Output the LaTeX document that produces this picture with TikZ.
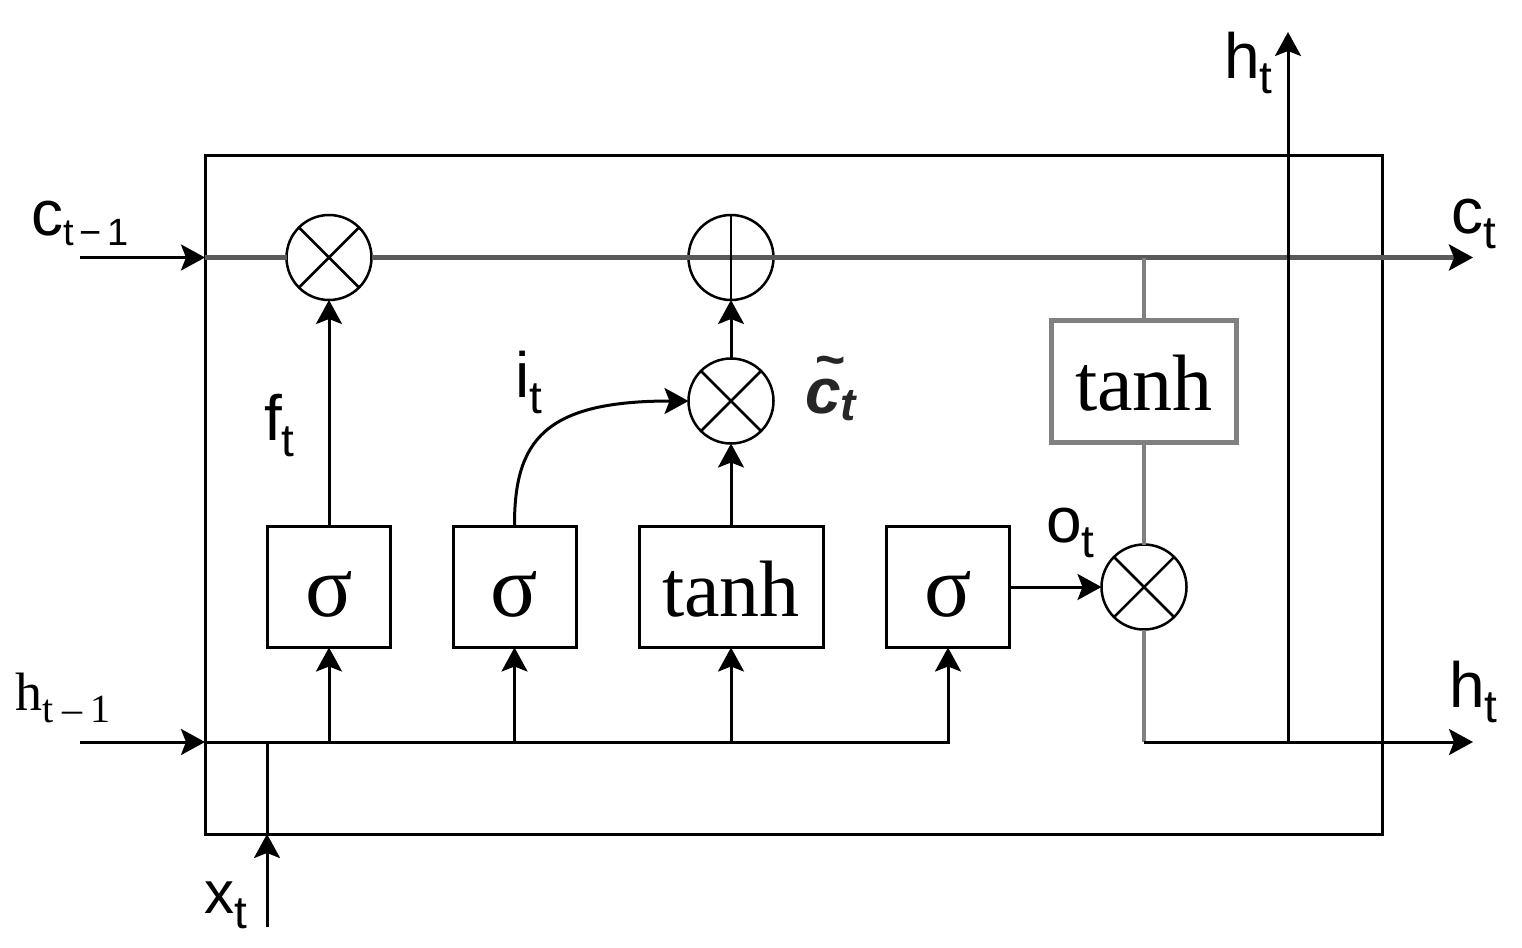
\documentclass[tikz,border=0pt]{standalone}
\usepackage{fontspec}
\setsansfont{Liberation Sans}
\newfontfamily\serf{Liberation Serif}
\usetikzlibrary{arrows.meta}
\definecolor{cline}{HTML}{5A5A5A}
\definecolor{gline}{HTML}{808080}
\newcommand{\LB}[5]{{\fontsize{#1}{#1}\selectfont #3\raisebox{-#5pt}{\fontsize{#2}{#2}\selectfont #4}}}
\newcommand{\sig}{{\serf\fontsize{88}{88}\selectfont σ}}
\newcommand{\tnh}{{\serf\fontsize{80}{80}\selectfont tanh}}
\newcommand{\tildec}{\rlap{\hspace{9pt}\raisebox{36pt}{\fontsize{52}{52}\selectfont\textasciitilde}}c}
\tikzset{
  ln/.style={line width=3pt, black},
  arr/.style={ln, -{Stealth[length=24pt,width=26pt,inset=5pt]}},
  cl/.style={line width=4.5pt, cline},
  gl/.style={line width=4.5pt, gline},
  gate/.style={draw, line width=3pt, minimum height=121pt, text height=58pt, text depth=0pt, inner sep=0pt, outer sep=0pt},
  opc/.style={circle, draw, line width=2.5pt, fill=white, minimum size=85pt, inner sep=0pt, outer sep=0pt},
  lab/.style={anchor=base west, inner sep=0pt, outer sep=0pt},
}
\begin{document}
\begin{tikzpicture}[x=1pt,y=-1pt]
\useasboundingbox (0,0) rectangle (1522,947);
\fill[white] (0,0) rectangle (1522,947);
% cell box
\node[draw, line width=3pt, minimum width=1177pt, minimum height=679pt, inner sep=0pt, outer sep=0pt] (cell) at (793.5,494.5) {};
% gates
\node[gate, minimum width=123pt] (s1) at (329,587) {\sig};
\node[gate, minimum width=123pt] (s2) at (514.5,587) {\sig};
\node[gate, minimum width=184pt] (tc) at (731,587) {\tnh};
\node[gate, minimum width=123pt] (s3) at (948,587) {\sig};
\node[gate, draw=gline, line width=5pt, minimum width=185pt, minimum height=122pt] (th) at (1144,381.5) {\tnh};
% operators
\node[opc] (m1) at (329,257.5) {};
\node[opc] (pl) at (731,257.5) {};
\node[opc] (m2) at (731,401) {};
\node[opc] (m3) at (1144,587) {};
% coordinates
\coordinate (cin) at (80,257.5);
\coordinate (hin) at (80,742);
\coordinate (xin) at (267,927);
\coordinate (cout) at (1473,257.5);
\coordinate (hout) at (1473,742);
\coordinate (htop) at (1288,32);
% cell state line
\draw[arr] (cin) -- (cin -| cell.west);
\draw[cl] (cin -| cell.west) -- (m1.west);
\draw[cl] (m1.east) -- (pl.west);
\draw[cl] (pl.west) -- (pl.east);
\draw[cl, -{Stealth[length=24pt,width=26pt,inset=5pt,color=black]}] (pl.east) -- (cout);
% output path
\draw[gl] (th.north |- cout) -- (th.north);
\draw[gl] (th.south) -- (m3.north);
\draw[gl] (m3.south) -- (m3.south |- hout);
\draw[arr] (m3.south |- hout) -- (hout);
\draw[arr] (htop |- hout) -- (htop);
% hidden input line
\draw[arr] (hin) -- (hin -| cell.west);
\draw[arr] (hin -| cell.west) -| (s3.south);
\draw[arr] (hin -| s1) -- (s1.south);
\draw[arr] (hin -| s2) -- (s2.south);
\draw[arr] (hin -| tc) -- (tc.south);
\draw[arr] (xin) -- (xin |- cell.south);
\draw[ln] (xin |- cell.south) -- (xin |- hin);
% gate outputs
\draw[arr] (s1.north) -- (m1.south);
\draw[arr] (tc.north) -- (m2.south);
\draw[arr] (m2.north) -- (pl.south);
\draw[line width=2.5pt] (pl.south) -- (pl.north);
\draw[arr] (s2.north) .. controls (514,440) and (545,401) .. (m2.west);
\draw[arr] (s3.east) -- (m3.west);
% crosses
\foreach \n in {m1,m2,m3}{
  \draw[line width=2.5pt] (\n.45) -- (\n.225) (\n.135) -- (\n.315);
}
% labels
\node[lab] (lc1) at (31,235) {\sffamily\LB{64}{38}{c}{t\hspace{6pt}−\hspace{6pt}1}{10}};
\node[lab] (lh1) at (16,710) {\serf\LB{54}{40}{h}{t\hspace{8pt}–\hspace{8pt}1}{12}};
\node[lab] (lx) at (204,913) {\sffamily\LB{60}{46}{x}{t}{15}};
\node[lab] (lf) at (264,440) {\sffamily\LB{64}{46}{f}{t}{16}};
\node[lab] (li) at (515,397) {\sffamily\LB{64}{46}{i}{t}{16}};
\node[lab, text=black!85] (lct) at (805,413) {\sffamily\bfseries\itshape\LB{64}{46}{\tildec}{t}{7}};
\node[lab] (lo) at (1046,542) {\sffamily\LB{64}{46}{o}{t}{15}};
\node[lab] (lht) at (1224,79) {\sffamily\LB{64}{46}{h}{t}{15}};
\node[lab] (lct2) at (1451,233) {\sffamily\LB{64}{46}{c}{t}{15}};
\node[lab] (lhr) at (1449,707) {\sffamily\LB{64}{46}{h}{t}{15}};
\end{tikzpicture}
\end{document}
